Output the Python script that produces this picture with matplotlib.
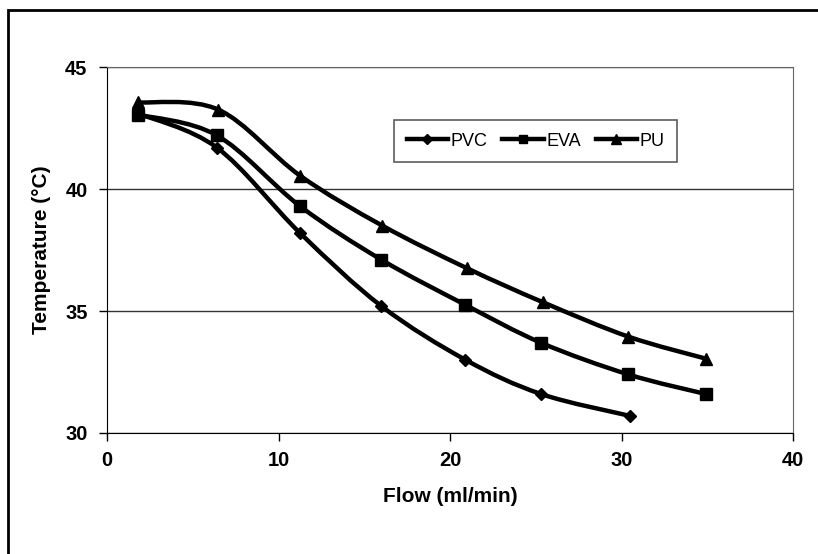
# temperature vs flow plot for three tubing materials
import numpy as np
import matplotlib.pyplot as plt
from matplotlib.path import Path
from matplotlib.patches import PathPatch, Rectangle
from matplotlib.lines import Line2D

plt.rcParams['font.family'] = ['Liberation Sans', 'DejaVu Sans']

# data
pvc_flow = [1.8, 6.4, 11.25, 16.0, 20.9, 25.3, 30.5]
pvc_temp = [43.1, 41.7, 38.2, 35.2, 33.0, 31.6, 30.7]

eva_flow = [1.8, 6.4, 11.25, 16.0, 20.9, 25.3, 30.4, 34.9]
eva_temp = [43.05, 42.2, 39.3, 37.1, 35.25, 33.7, 32.4, 31.6]

pu_flow = [1.8, 6.5, 11.25, 16.05, 21.0, 25.45, 30.4, 34.9]
pu_temp = [43.55, 43.25, 40.55, 38.5, 36.75, 35.35, 33.95, 33.05]

series = [("PVC", pvc_flow, pvc_temp, "D", 6),
          ("EVA", eva_flow, eva_temp, "s", 8),
          ("PU", pu_flow, pu_temp, "^", 9)]


# excel-style smoothed line: cubic bezier segments through the points
def smooth_path(x, y):
    p = np.column_stack([x, y])
    n = len(p)
    verts = [p[0]]
    codes = [Path.MOVETO]
    for i in range(n - 1):
        p0 = p[i - 1] if i > 0 else p[i]
        p3 = p[i + 2] if i + 2 < n else p[i + 1]
        c1 = p[i] + (p[i + 1] - p0) / 6
        c2 = p[i + 1] - (p3 - p[i]) / 6
        verts += [c1, c2, p[i + 1]]
        codes += [Path.CURVE4] * 3
    return Path(verts, codes)


fig = plt.figure(figsize=(8.18, 5.54), dpi=100)
ax = fig.add_axes([107 / 818, 1 - 433 / 554, 686 / 818, 366 / 554])

# outer frame of the picture
fig.add_artist(Rectangle((8 / 818, -0.1), 1.2, 1 - 10 / 554 + 0.1,
                         transform=fig.transFigure, fill=False,
                         edgecolor="black", lw=2))

for name, x, y, mk, ms in series:
    ax.add_patch(PathPatch(smooth_path(x, y), fill=False, edgecolor="black",
                           lw=3.2, capstyle="round", joinstyle="round", zorder=3))
    ax.plot(x, y, linestyle="none", marker=mk, color="black", ms=ms, zorder=4)

ax.set_xlim(0, 40)
ax.set_ylim(30, 45)
ax.set_xticks([0, 10, 20, 30, 40])
ax.set_yticks([30, 35, 40, 45])
ax.tick_params(direction="out", length=6, width=1, labelsize=14.5)
ax.tick_params(axis="y", pad=8)
ax.tick_params(axis="x", pad=7)
for lab in ax.get_xticklabels() + ax.get_yticklabels():
    lab.set_fontweight("bold")

ax.grid(axis="y", color="#333333", lw=1)
ax.set_axisbelow(True)
ax.spines["top"].set_color("#666666")
ax.spines["right"].set_color("#666666")
ax.spines["left"].set_color("black")
ax.spines["bottom"].set_color("black")

ax.set_xlabel("Flow (ml/min)", fontsize=15, fontweight="bold", labelpad=12)
ax.set_ylabel("Temperature (°C)", fontsize=15, fontweight="bold", labelpad=10)

handles = [Line2D([], [], color="black", lw=3.2, marker=mk, ms=ms * 0.8)
           for _, _, _, mk, ms in series]
leg = ax.legend(handles, [s[0] for s in series], ncol=3, loc="upper left",
                bbox_to_anchor=(287 / 686, 1 - 53 / 366), fontsize=13,
                frameon=True, fancybox=False, edgecolor="#333333",
                handlelength=2.3, handletextpad=0.15, columnspacing=0.8,
                borderpad=0.7, borderaxespad=0)
leg.get_frame().set_linewidth(1.2)

fig.savefig("out.png", dpi=100)
